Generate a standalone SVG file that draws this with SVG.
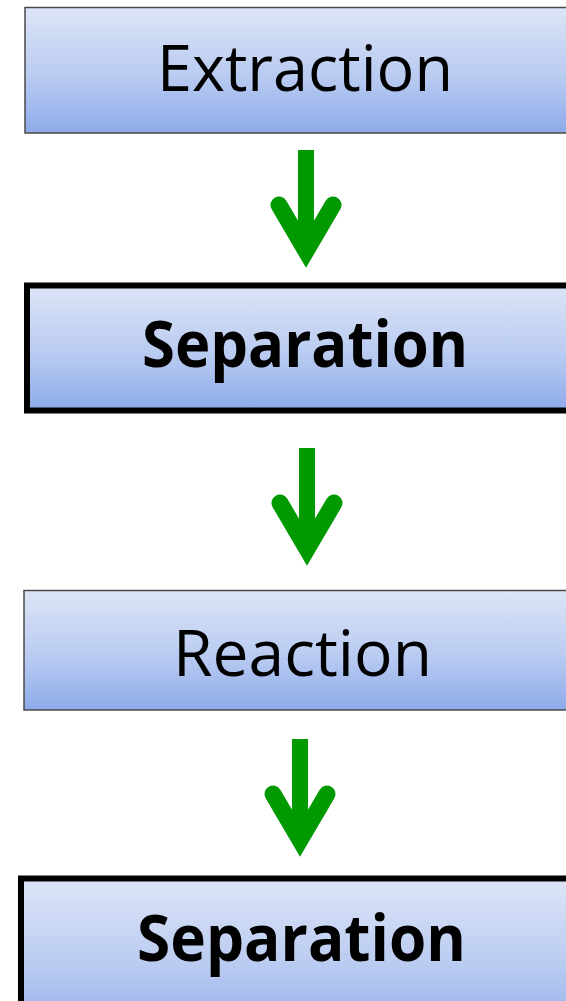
<svg xmlns="http://www.w3.org/2000/svg" width="566" height="1001" viewBox="0 0 566 1001">
  <defs>
    <linearGradient id="boxFill" x1="0" y1="0" x2="0" y2="1">
      <stop offset="0" stop-color="#dde5f7"/>
      <stop offset="0.55" stop-color="#b9cbf1"/>
      <stop offset="1" stop-color="#8dabea"/>
    </linearGradient>
    <g id="downArrow">
      <rect x="-8" y="0" width="16" height="96" fill="#009900"/>
      <polyline points="-27,55 0,101 27,55" fill="none" stroke="#009900" stroke-width="17" stroke-linecap="round" stroke-linejoin="miter" stroke-miterlimit="6"/>
    </g>
  </defs>
  <style>
    .box { fill: url(#boxFill); }
    .thin { stroke: #4a4a4a; stroke-width: 1.5; }
    .thick { stroke: #000; stroke-width: 6; }
    .lbl { font-family: "Open Sans", "Liberation Sans", sans-serif; font-size: 64px; fill: #000; text-anchor: middle; }
    .bold { font-weight: bold; }
  </style>

  <rect width="566" height="1001" fill="#fff"/>

  <g id="connectors">
    <use href="#downArrow" x="306" y="150"/>
    <use href="#downArrow" x="307" y="448"/>
    <use href="#downArrow" x="300" y="739"/>
  </g>

  <g id="extraction">
    <rect class="box thin" x="25" y="7.5" width="600" height="125.5"/>
    <text class="lbl" x="305" y="91" textLength="296" lengthAdjust="spacingAndGlyphs">Extraction</text>
  </g>

  <g id="separation-1">
    <rect class="box thick" x="27" y="285.5" width="600" height="125"/>
    <text class="lbl bold" x="305" y="367" textLength="326" lengthAdjust="spacingAndGlyphs">Separation</text>
  </g>

  <g id="reaction">
    <rect class="box thin" x="24" y="590.5" width="600" height="119.5"/>
    <text class="lbl" x="302.5" y="676" textLength="259" lengthAdjust="spacingAndGlyphs">Reaction</text>
  </g>

  <g id="separation-2">
    <rect class="box thick" x="21" y="878.5" width="600" height="160"/>
    <text class="lbl bold" x="301.5" y="961" textLength="329" lengthAdjust="spacingAndGlyphs">Separation</text>
  </g>
</svg>
